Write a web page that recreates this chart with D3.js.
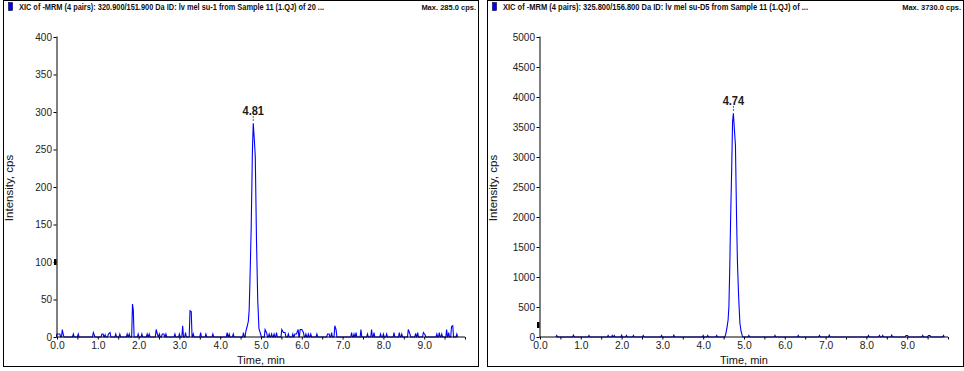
<!DOCTYPE html>
<html><head><meta charset="utf-8">
<script src="https://cdn.jsdelivr.net/npm/d3@7"></script>
<style>
html,body{margin:0;padding:0;background:#fff;}
svg{display:block;font-family:"Liberation Sans",Arial,sans-serif;}
</style></head>
<body>
<svg id="c" width="964" height="371"></svg>
<script>
// ---------- DATA ----------
const titles = [
  "XIC of -MRM (4 pairs): 320.900/151.900 Da ID: lv mel su-1 from Sample 11 (1.QJ) of 20 ...",
  "XIC of -MRM (4 pairs): 325.800/156.800 Da ID: lv mel su-D5 from Sample 11 (1.QJ) of ..."
];
const maxLabels = ["Max. 285.0 cps.", "Max. 3730.0 cps."];
const peakTimes = [4.81, 4.74];
const peakLabels = ["4.81", "4.74"];
const xTickLabels = ["0.0","1.0","2.0","3.0","4.0","5.0","6.0","7.0","8.0","9.0"];
const yTicksLeft = [0,50,100,150,200,250,300,350,400];
const yTicksRight = [0,500,1000,1500,2000,2500,3000,3500,4000,4500,5000];
const xLabel = "Time, min";
const yLabel = "Intensity, cps";

// left series (time, min / intensity, cps)
const leftTimes = [0.00,0.03,0.07,0.13,0.15,0.40,0.52,0.89,0.91,1.10,1.13,1.18,1.26,1.30,1.44,1.54,1.72,1.77,1.85,1.87,1.99,2.08,2.21,2.26,2.43,2.46,2.51,2.58,2.62,2.67,2.89,3.00,3.08,3.15,3.26,3.29,3.34,3.52,3.65,3.82,4.17,4.22,4.32,4.57,
  4.63,4.66,4.69,4.71,4.73,4.76,4.79,4.81,4.84,4.86,4.89,4.92,4.95,4.99,
  5.10,5.14,5.20,5.26,5.32,5.38,5.51,5.55,5.59,5.67,5.78,5.83,5.87,5.91,5.96,6.00,6.04,6.10,6.16,6.22,6.37,6.63,6.67,6.73,6.81,6.84,7.22,7.28,7.33,7.45,7.61,7.71,7.77,7.93,8.00,8.08,8.26,8.39,8.45,8.61,8.65,8.79,8.84,8.98,9.02,9.31,9.37,9.43,9.55,9.60,9.67,9.70,9.80];
const leftValues = [4,4,4,10,4,4,4,6,3,4,4,3,4,6,4,4,4,4,44,36,4,4,4,4,10,4,4,4,4,4,4,4,15,6,35,34,4,6,4,4,6,4,4,6,
  8,14,21,36,76,147,249,285,260,240,127,49,11,4,
  10,5,4,4,4,6,10,6,6,4,4,4,4,10,10,10,6,4,4,4,4,4,4,6,15,10,6,4,6,10,4,10,6,4,4,4,6,6,4,10,4,5,6,6,3,4,6,4,10,6,14,15,4];

// right series
const rightTimes = [0.41,0.82,1.20,1.67,1.77,1.82,2.00,2.12,2.29,2.53,2.98,3.28,4.00,4.11,4.33,
  4.55,4.58,4.61,4.63,4.65,4.67,4.70,4.72,4.74,4.76,4.79,4.82,4.84,4.87,4.90,4.93,4.96,
  5.12,5.76,6.33,6.85,7.09,8.05,8.32,8.40,8.62,8.97,9.01,9.38,9.52,9.56,9.89];
const rightValues = [25,30,25,25,25,25,30,25,25,25,25,30,25,25,25,
  40,145,283,505,1117,1895,2867,3588,3730,3505,3200,1895,1228,645,228,88,17,
  25,25,25,25,30,25,25,25,30,25,25,25,25,25,25];

// ---------- DRAW ----------
const svg = d3.select("#c");
svg.append("rect").attr("width",964).attr("height",371).attr("fill","#fff");

const panels = [
  {fx:3, fw:475, ax:57, times:leftTimes, values:leftValues, yTicks:yTicksLeft, ymax:400, marker:100},
  {fx:487, fw:476, ax:540, times:rightTimes, values:rightValues, yTicks:yTicksRight, ymax:5000, marker:200}
];

function buildPoints(times, values){
  const dt = 0.02, pts = [];
  for (let i=0;i<times.length;i++){
    const t = times[i];
    if (i===0 || t - times[i-1] > 2.2*dt) pts.push([t-dt, 0]);
    pts.push([t, values[i]]);
    if (i===times.length-1 || times[i+1] - t > 2.2*dt) pts.push([t+dt, 0]);
  }
  return pts;
}

panels.forEach((p,i)=>{
  const g = svg.append("g");
  // frame
  g.append("rect").attr("x",p.fx+0.5).attr("y",0.5).attr("width",p.fw).attr("height",366)
    .attr("fill","none").attr("stroke","#000").attr("stroke-width",1);
  // header
  g.append("rect").attr("x",p.fx+5.5).attr("y",2.5).attr("width",4).attr("height",8)
    .attr("fill","#0000ff").attr("stroke","#000033").attr("stroke-width",0.6);
  g.append("text").attr("x",p.fx+16).attr("y",9.5).attr("font-size",8.3).attr("font-weight","bold")
    .attr("fill","#111").attr("textLength",305).attr("lengthAdjust","spacingAndGlyphs").text(titles[i]);
  g.append("text").attr("x",p.fx+p.fw-2).attr("y",9.5).attr("font-size",7.5).attr("font-weight","bold")
    .attr("fill","#111").attr("text-anchor","end").text(maxLabels[i]);

  const x = d3.scaleLinear().domain([0,10]).range([p.ax, p.ax+408]);
  const y = d3.scaleLinear().domain([0,p.ymax]).range([337, 37]);

  // data
  const clipId = "clip"+i;
  svg.append("clipPath").attr("id",clipId).append("rect")
    .attr("x",p.ax-1).attr("y",30).attr("width",410).attr("height",308);
  const pts = buildPoints(p.times, p.values);
  g.append("path").attr("clip-path",`url(#${clipId})`)
    .attr("d", d3.line().x(d=>x(d[0])).y(d=>y(d[1]))(pts))
    .attr("fill","none").attr("stroke","#0000ff").attr("stroke-width",1.1);

  // x axis
  const xAxis = d3.axisBottom(x).tickValues(d3.range(0,10.01,0.5)).tickSize(2.5)
    .tickFormat(d=> Number.isInteger(d) && d<10 ? xTickLabels[d] : "");
  const gx = g.append("g").attr("transform","translate(0,336.5)").call(xAxis);
  gx.select(".domain").attr("stroke","#000").attr("d",`M${p.ax-0.5},0.5H${p.ax+408}`);
  gx.selectAll(".tick line").attr("stroke","#000").attr("y1",0.5).attr("y2",3);
  gx.selectAll(".tick text").attr("font-size",10.3).attr("fill","#222")
    .attr("font-family","'Liberation Sans',Arial,sans-serif").attr("dy",null).attr("y",12.5);

  // y axis
  const yAxis = d3.axisLeft(y).tickValues(p.yTicks).tickSize(3).tickFormat(d=>String(d));
  const gy = g.append("g").attr("transform",`translate(${p.ax-0.5},0)`).call(yAxis);
  gy.select(".domain").attr("stroke","#000").attr("d","M0.5,36.5V337.5");
  gy.selectAll(".tick line").attr("stroke","#000");
  gy.selectAll(".tick text").attr("font-size",10).attr("fill","#222")
    .attr("font-family","'Liberation Sans',Arial,sans-serif").attr("x",-4.5).attr("dy","0.34em");

  // threshold marker on y axis
  g.append("rect").attr("x",p.ax-3).attr("y",y(p.marker)-3).attr("width",2.5).attr("height",6).attr("fill","#000");

  // axis titles
  g.append("text").attr("x",p.ax+204).attr("y",364).attr("text-anchor","middle")
    .attr("font-size",11).attr("fill","#111").text(xLabel);
  g.append("text").attr("transform",`translate(${p.fx+10},188) rotate(-90)`)
    .attr("text-anchor","middle").attr("font-size",11.5).attr("fill","#111").text(yLabel);

  // peak label
  const pi = p.times.indexOf(peakTimes[i]);
  const px = x(peakTimes[i]), py = y(p.values[pi]);
  g.append("line").attr("x1",px).attr("x2",px).attr("y1",py-7).attr("y2",py-1)
    .attr("stroke","#000").attr("stroke-width",0.8).attr("stroke-dasharray","1.5,1.5");
  g.append("text").attr("x",px).attr("y",py-8.5).attr("text-anchor","middle")
    .attr("font-size",13).attr("font-weight","bold").attr("fill","#1a1a1a")
    .attr("textLength",21.5).attr("lengthAdjust","spacingAndGlyphs").text(peakLabels[i]);
});
</script>
</body></html>
